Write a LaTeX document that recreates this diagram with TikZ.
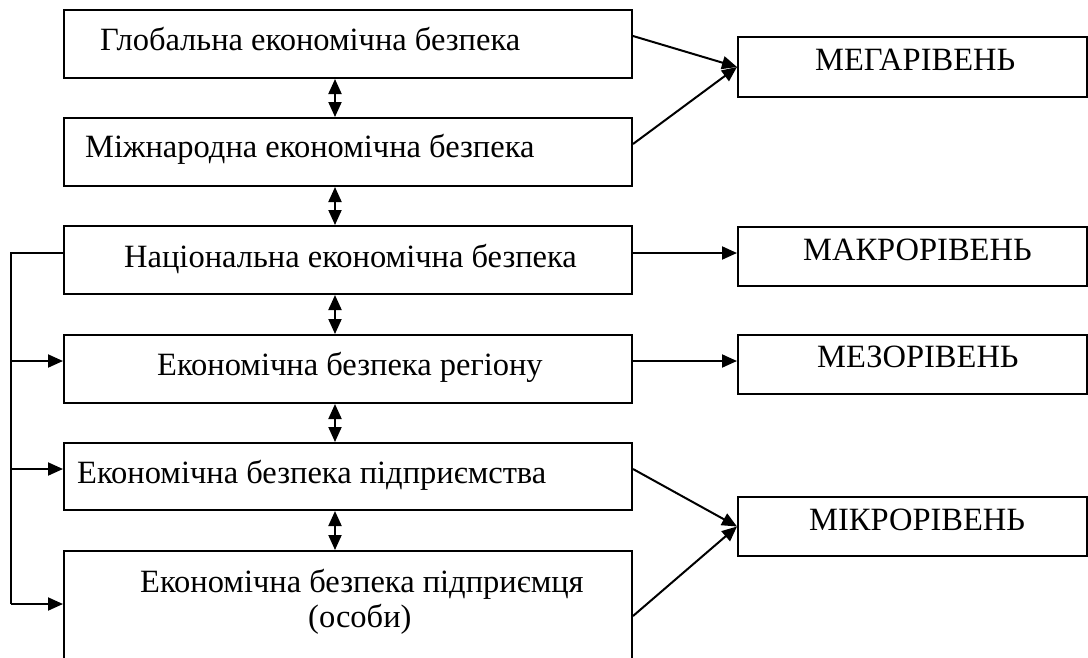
\documentclass[tikz,border=0pt]{standalone}
\usepackage{fontspec}
\setmainfont{Liberation Serif}
\usetikzlibrary{arrows.meta,calc}
\begin{document}
\begin{tikzpicture}[x=1pt,y=-1pt,
  lw/.style={line width=2pt},
  levelbox/.style={draw,lw,rectangle,inner sep=0pt},
  lbl/.style={inner sep=0pt,anchor=base west,font=\fontsize{32.5}{38}\selectfont},
  tip/.style={-{Triangle[length=15pt,width=13pt]}},
  dtip/.style={{Triangle[length=15pt,width=13pt]}-{Triangle[length=15pt,width=13pt]}}]
\clip (0,0) rectangle (1088,657);
\fill[white] (0,0) rectangle (1088,657);

% security levels (left column)
\node[levelbox,minimum width=568pt,minimum height=68pt] (b1) at (348,44) {};
\node[levelbox,minimum width=568pt,minimum height=68pt] (b2) at (348,152) {};
\node[levelbox,minimum width=568pt,minimum height=68pt] (b3) at (348,260) {};
\node[levelbox,minimum width=568pt,minimum height=68pt] (b4) at (348,369) {};
\node[levelbox,minimum width=568pt,minimum height=67pt] (b5) at (348,476.5) {};
\node[levelbox,minimum width=568pt,minimum height=150pt] (b6) at (348,626) {};

\node[lbl] (t1) at (100,50) {Глобальна економічна безпека};
\node[lbl] (t2) at (85,157) {Міжнародна економічна безпека};
\node[lbl] (t3) at (124,267) {Національна економічна безпека};
\node[lbl] (t4) at (157,375) {Економічна безпека регіону};
\node[lbl] (t5) at (77,483) {Економічна безпека підприємства};
\node[lbl] (t6a) at (140,592) {Економічна безпека підприємця};
\node[lbl] (t6b) at (308,627) {(особи)};

% hierarchy levels (right column)
\node[levelbox,minimum width=349pt,minimum height=60pt] (mega) at (912.5,67) {};
\node[levelbox,minimum width=349pt,minimum height=59pt] (makro) at (912.5,256.5) {};
\node[levelbox,minimum width=349pt,minimum height=59pt] (mezo) at (912.5,364.5) {};
\node[levelbox,minimum width=349pt,minimum height=59pt] (mikro) at (912.5,526.5) {};

\node[lbl] (tm1) at (815,70) {МЕГАРІВЕНЬ};
\node[lbl] (tm2) at (803,260) {МАКРОРІВЕНЬ};
\node[lbl] (tm3) at (817,367) {МЕЗОРІВЕНЬ};
\node[lbl] (tm4) at (809,530) {МІКРОРІВЕНЬ};

% two-way links between neighbouring levels
\coordinate (ax) at (335,0);
\draw[lw,dtip] (b1.south -| ax) -- (b2.north -| ax);
\draw[lw,dtip] (b2.south -| ax) -- (b3.north -| ax);
\draw[lw,dtip] (b3.south -| ax) -- (b4.north -| ax);
\draw[lw,dtip] (b4.south -| ax) -- (b5.north -| ax);
\draw[lw,dtip] (b5.south -| ax) -- (b6.north -| ax);

% links to the hierarchy levels
\draw[lw,tip] ($(b1.north east)+(0,27)$) -- (mega.west);
\draw[lw,tip] ($(b2.north east)+(0,27)$) -- (mega.west);
\draw[lw,tip] ($(b3.north east)+(0,28)$) -- (makro.west |- {$(b3.north east)+(0,28)$});
\draw[lw,tip] ($(b4.north east)+(0,27)$) -- (mezo.west |- {$(b4.north east)+(0,27)$});
\draw[lw,tip] ($(b5.north east)+(0,27)$) -- (mikro.west);
\draw[lw,tip] ($(b6.north east)+(0,66)$) -- (mikro.west);

% national level feeds the lower levels
\coordinate (bx) at (11,0);
\draw[lw] ($(b3.north west)+(0,28)$) -- (bx |- {$(b3.north west)+(0,28)$}) -- (bx |- {$(b6.north west)+(0,54)$});
\draw[lw,tip] (bx |- {$(b4.north west)+(0,27)$}) -- ($(b4.north west)+(0,27)$);
\draw[lw,tip] (bx |- {$(b5.north west)+(0,27)$}) -- ($(b5.north west)+(0,27)$);
\draw[lw,tip] (bx |- {$(b6.north west)+(0,54)$}) -- ($(b6.north west)+(0,54)$);
\end{tikzpicture}
\end{document}
